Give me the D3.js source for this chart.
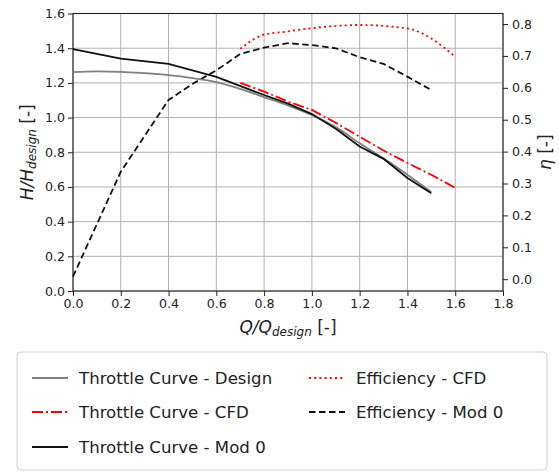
<!DOCTYPE html>
<html><head><meta charset="utf-8">
<script src="https://cdn.jsdelivr.net/npm/d3@7"></script>
<style>body{margin:0;background:#fff;} svg{font-family:"DejaVu Sans",sans-serif;}</style>
</head><body><svg id="c" width="559" height="473"></svg>
<script>
// ---- data ----
const qDesign = [0.0, 0.1, 0.2, 0.3, 0.4, 0.5, 0.6, 0.7, 0.8, 0.9, 1.0, 1.1, 1.2, 1.3, 1.4, 1.5];
const hDesign = [1.262, 1.266, 1.264, 1.256, 1.245, 1.228, 1.205, 1.165, 1.118, 1.07, 1.015, 0.945, 0.852, 0.765, 0.67, 0.57];
const qCFD = [0.7, 0.8, 0.9, 1.0, 1.1, 1.2, 1.3, 1.4, 1.5, 1.6];
const hCFD = [1.2, 1.15, 1.092, 1.044, 0.97, 0.89, 0.81, 0.738, 0.67, 0.595];
const qMod0 = [0.0, 0.2, 0.4, 0.6, 0.8, 0.9, 1.0, 1.1, 1.2, 1.3, 1.4, 1.5];
const hMod0 = [1.395, 1.34, 1.31, 1.235, 1.13, 1.08, 1.02, 0.935, 0.833, 0.762, 0.652, 0.563];
const qEffCFD = [0.7, 0.8, 0.87, 1.0, 1.2, 1.4, 1.6];
const effCFD = [0.722, 0.767, 0.774, 0.787, 0.797, 0.786, 0.698];
const qEffMod0 = [0.0, 0.2, 0.4, 0.5, 0.6, 0.7, 0.8, 0.9, 1.0, 1.1, 1.2, 1.3, 1.4, 1.5];
const effMod0 = [0.008, 0.337, 0.562, 0.612, 0.655, 0.706, 0.726, 0.74, 0.734, 0.724, 0.696, 0.675, 0.635, 0.593];
const xTicks = [0.0, 0.2, 0.4, 0.6, 0.8, 1.0, 1.2, 1.4, 1.6, 1.8];
const yTicks = [0.0, 0.2, 0.4, 0.6, 0.8, 1.0, 1.2, 1.4, 1.6];
const etaTicks = [0.0, 0.1, 0.2, 0.3, 0.4, 0.5, 0.6, 0.7, 0.8];
const legendLabels = ["Throttle Curve - Design", "Throttle Curve - CFD", "Throttle Curve - Mod 0", "Efficiency - CFD", "Efficiency - Mod 0"];

// ---- layout ----
const svg = d3.select("#c");
const L = 73, R = 503, T = 13.5, B = 291;
const x = d3.scaleLinear().domain([0, 1.8]).range([L, R]);
const y = d3.scaleLinear().domain([0, 1.6]).range([B, T]);
const yE = d3.scaleLinear().domain([-0.037, 0.833]).range([B, T]);

// grid
const grid = svg.append("g").attr("stroke", "#b0b0b0").attr("stroke-width", 1);
grid.selectAll("line.v").data(xTicks).join("line").attr("x1", d => x(d)).attr("x2", d => x(d)).attr("y1", T).attr("y2", B);
grid.selectAll("line.h").data(yTicks).join("line").attr("x1", L).attr("x2", R).attr("y1", d => y(d)).attr("y2", d => y(d));

// axes
const fmt1 = d3.format(".1f");
const gx = svg.append("g").attr("transform", `translate(0,${B})`).call(d3.axisBottom(x).tickValues(xTicks).tickFormat(fmt1).tickSize(5).tickPadding(3));
const gy = svg.append("g").attr("transform", `translate(${L},0)`).call(d3.axisLeft(y).tickValues(yTicks).tickFormat(fmt1).tickSize(5).tickPadding(3));
const gr = svg.append("g").attr("transform", `translate(${R},0)`).call(d3.axisRight(yE).tickValues(etaTicks).tickFormat(fmt1).tickSize(5).tickPadding(4));
[gx, gy, gr].forEach(g => {
  g.select(".domain").remove();
  g.selectAll("text").attr("font-size", 12.6).attr("fill", "#222").attr("font-family", "DejaVu Sans");
  g.selectAll("line").attr("stroke", "#222");
});
svg.append("rect").attr("x", L).attr("y", T).attr("width", R - L).attr("height", B - T)
  .attr("fill", "none").attr("stroke", "#222").attr("stroke-width", 1.1);

// lines
const line = (xs, ys, ysc, curve) => d3.line().x((d, i) => x(xs[i])).y(d => ysc(d)).curve(curve || d3.curveLinear)(ys);
const plot = svg.append("g").attr("fill", "none");
const styles = {
  design: {stroke: "#7f7f7f", dash: null, w: 1.8},
  cfd: {stroke: "#ff0000", dash: "11,3,2,3", w: 1.8},
  mod0: {stroke: "#111", dash: null, w: 1.8},
  effcfd: {stroke: "#ff0000", dash: "2,3.2", w: 1.8},
  effmod0: {stroke: "#111", dash: "6.5,3.5", w: 1.8}
};
function draw(d, st) {
  const p = plot.append("path").attr("d", d).attr("stroke", st.stroke).attr("stroke-width", st.w);
  if (st.dash) p.attr("stroke-dasharray", st.dash);
}
draw(line(qEffMod0, effMod0, yE), styles.effmod0);
draw(line(qEffCFD, effCFD, yE, d3.curveMonotoneX), styles.effcfd);
draw(line(qDesign, hDesign, y, d3.curveMonotoneX), styles.design);
draw(line(qCFD, hCFD, y), styles.cfd);
draw(line(qMod0, hMod0, y), styles.mod0);

// axis labels
const xl = svg.append("text").attr("x", (L + R) / 2).attr("y", 333).attr("text-anchor", "middle")
  .attr("font-size", 17).attr("fill", "#222");
xl.append("tspan").attr("font-style", "italic").text("Q/Q");
xl.append("tspan").attr("font-style", "italic").attr("font-size", 12).attr("dy", 3).text("design");
xl.append("tspan").attr("dy", -3).text(" [-]");

const yl = svg.append("text").attr("transform", `translate(33,${(T + B) / 2}) rotate(-90)`).attr("text-anchor", "middle")
  .attr("font-size", 17).attr("fill", "#222");
yl.append("tspan").attr("font-style", "italic").text("H/H");
yl.append("tspan").attr("font-style", "italic").attr("font-size", 12).attr("dy", 3).text("design");
yl.append("tspan").attr("dy", -3).text(" [-]");

const yr = svg.append("text").attr("transform", `translate(551,${(T + B) / 2}) rotate(-90)`).attr("text-anchor", "middle")
  .attr("font-size", 17).attr("fill", "#222");
yr.append("tspan").attr("font-style", "italic").text("η");
yr.append("tspan").text(" [-]");

// legend
const lg = svg.append("g");
lg.append("rect").attr("x", 17).attr("y", 352).attr("width", 530).attr("height", 118).attr("rx", 4)
  .attr("fill", "#fff").attr("stroke", "#d0d0d0").attr("stroke-width", 1);
const legItems = [
  {st: styles.design, x0: 32, y0: 378},
  {st: styles.cfd, x0: 32, y0: 412},
  {st: styles.mod0, x0: 32, y0: 447},
  {st: styles.effcfd, x0: 309, y0: 378},
  {st: styles.effmod0, x0: 309, y0: 412}
];
legItems.forEach((it, i) => {
  const l = lg.append("line").attr("x1", it.x0).attr("x2", it.x0 + 36).attr("y1", it.y0).attr("y2", it.y0)
    .attr("stroke", it.st.stroke).attr("stroke-width", it.st.w);
  if (it.st.dash) l.attr("stroke-dasharray", it.st.dash);
  lg.append("text").attr("x", it.x0 + 47).attr("y", it.y0).attr("dy", "0.35em")
    .attr("font-size", 16.6).attr("fill", "#222").text(legendLabels[i]);
});
</script></body></html>
